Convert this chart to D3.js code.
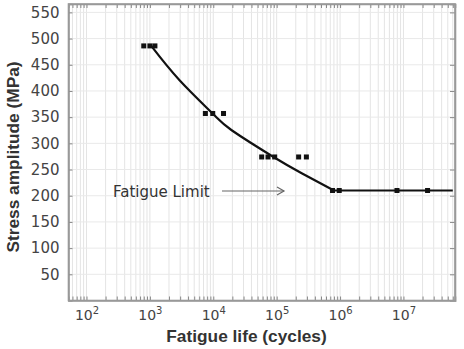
<!DOCTYPE html>
<html><head><meta charset="utf-8">
<script src="https://cdn.jsdelivr.net/npm/d3@7"></script>
<style>
body{margin:0;background:#fff;}
svg{display:block;}
</style></head><body>
<svg id="c" width="464" height="349"></svg>
<script>
// Data (cycles, stress MPa)
const pointCycles = [800, 1000, 1200, 7500, 9800, 14500, 58000, 73000, 93000, 222000, 294000, 760000, 970000, 7.9e6, 2.4e7];
const pointStress = [486, 486, 486, 357, 357, 357, 274, 274, 274, 274, 274, 210, 210, 210, 210];
const curveCycles = [1050, 2960, 9930, 19500, 86500, 248000, 800000];
const curveStress = [486, 420, 356, 325, 275, 243, 210];
const limitCycles = [800000, 6e7];
const limitStress = [210, 210];
const yTicks = [50, 100, 150, 200, 250, 300, 350, 400, 450, 500, 550];
const decades = [2, 3, 4, 5, 6, 7];
const annotation = "Fatigue Limit";
const xTitle = "Fatigue life (cycles)";
const yTitle = "Stress amplitude (MPa)";

const L = 68.5, R = 455, T = 4, B = 300.5;
const svg = d3.select("#c");
const x = d3.scaleLog().domain([52, 6.5e7]).range([L, R]);
const y = d3.scaleLinear().domain([0, 566]).range([B, T]);

// minor tick values
const xMinor = [];
for (let e = 1; e <= 7; e++) for (let m = 1; m <= 9; m++) {
  const v = m * Math.pow(10, e);
  if (v >= 52 && v <= 6.5e7) xMinor.push(v);
}

// grid
const grid = svg.append("g");
grid.selectAll("line.v").data(xMinor).join("line")
  .attr("x1", d => x(d)).attr("x2", d => x(d)).attr("y1", T).attr("y2", B)
  .attr("stroke", "#e4e4e4").attr("stroke-width", 1);
grid.selectAll("line.h").data(yTicks).join("line")
  .attr("x1", L).attr("x2", R).attr("y1", d => y(d)).attr("y2", d => y(d))
  .attr("stroke", "#e9e9e9").attr("stroke-width", 1);

const frameColor = "#999";
const isDecade = d => Math.abs(Math.log10(d) - Math.round(Math.log10(d))) < 1e-9;

// bottom axis
const gb = svg.append("g").attr("transform", `translate(0,${B})`)
  .call(d3.axisBottom(x).tickValues(xMinor).tickSize(-4).tickPadding(9).tickFormat(""));
gb.selectAll("text").remove();
gb.selectAll(".tick").filter(d => isDecade(d) && decades.includes(Math.round(Math.log10(d))))
  .append("text").attr("y", 19.5).attr("text-anchor", "middle")
  .attr("fill", "#444").style("font-family", "DejaVu Sans, sans-serif").style("font-size", "14px")
  .each(function(d){
    const t = d3.select(this);
    t.append("tspan").text("10");
    t.append("tspan").attr("dy", -6).style("font-size", "10px").text(Math.round(Math.log10(d)));
  });
// top axis
const gt = svg.append("g").attr("transform", `translate(0,${T})`)
  .call(d3.axisTop(x).tickValues(xMinor).tickSize(-4).tickFormat(""));
// left axis
const gl = svg.append("g").attr("transform", `translate(${L},0)`)
  .call(d3.axisLeft(y).tickValues(yTicks).tickSize(-4).tickPadding(9));
gl.selectAll("text").attr("fill", "#444").style("font-family", "DejaVu Sans, sans-serif").style("font-size", "15px");
// right axis
const gr = svg.append("g").attr("transform", `translate(${R},0)`)
  .call(d3.axisRight(y).tickValues(yTicks).tickSize(-5).tickFormat(""));

[gb, gt, gl, gr].forEach(g => {
  g.selectAll(".domain").attr("stroke", frameColor).attr("stroke-width", 1.6);
  g.selectAll(".tick line").attr("stroke", "#888").attr("stroke-width", 1);
});
svg.append("rect").attr("x", L).attr("y", T).attr("width", R - L).attr("height", B - T)
  .attr("fill", "none").attr("stroke", frameColor).attr("stroke-width", 1.6);

// fitted curve + fatigue limit line
const curveData = curveCycles.map((c, i) => [c, curveStress[i]]);
const limitData = limitCycles.map((c, i) => [c, limitStress[i]]);
svg.append("path").datum(curveData)
  .attr("d", d3.line().x(d => x(d[0])).y(d => y(d[1])).curve(d3.curveNatural))
  .attr("fill", "none").attr("stroke", "#111").attr("stroke-width", 2.2);
svg.append("path").datum(limitData)
  .attr("d", d3.line().x(d => x(d[0])).y(d => y(d[1])))
  .attr("fill", "none").attr("stroke", "#111").attr("stroke-width", 2.2);

// points
const pts = pointCycles.map((c, i) => [c, pointStress[i]]);
svg.selectAll("rect.pt").data(pts).join("rect")
  .attr("x", d => x(d[0]) - 2.5).attr("y", d => y(d[1]) - 2.5)
  .attr("width", 5).attr("height", 5).attr("fill", "#111");

// annotation
svg.append("text").attr("x", 113).attr("y", 197)
  .attr("fill", "#333").style("font-family", "DejaVu Sans, sans-serif").style("font-size", "15px")
  .text(annotation);
const ay = 191, ax1 = 222, ax2 = 284;
svg.append("line").attr("x1", ax1).attr("x2", ax2).attr("y1", ay).attr("y2", ay)
  .attr("stroke", "#666").attr("stroke-width", 1.2);
svg.append("path").attr("d", `M${ax2 - 7},${ay - 4}L${ax2},${ay}L${ax2 - 7},${ay + 4}`)
  .attr("fill", "none").attr("stroke", "#666").attr("stroke-width", 1.2);

// titles
svg.append("text").attr("x", 246.5).attr("y", 341.5).attr("text-anchor", "middle")
  .attr("fill", "#333").style("font-family", "Liberation Sans, Arial, sans-serif")
  .style("font-size", "17.3px").style("font-weight", "600").text(xTitle);
svg.append("text").attr("transform", "translate(18.5,157) rotate(-90)").attr("text-anchor", "middle")
  .attr("fill", "#333").style("font-family", "Liberation Sans, Arial, sans-serif")
  .style("font-size", "17.3px").style("font-weight", "600").text(yTitle);
</script>
</body></html>
